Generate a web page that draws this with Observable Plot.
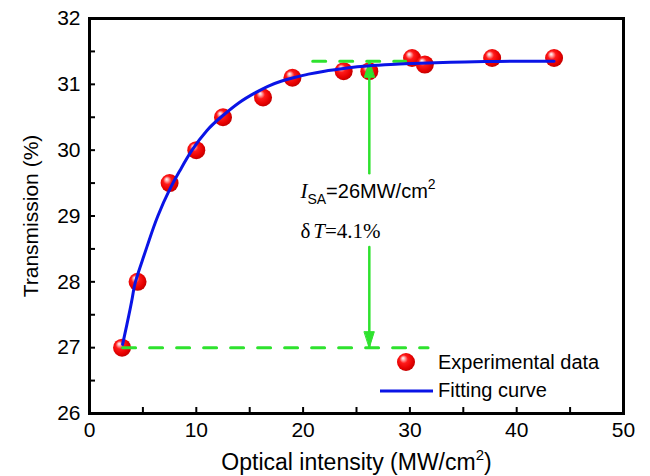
<!DOCTYPE html>
<html><head><meta charset="utf-8">
<script src="https://cdn.jsdelivr.net/npm/d3@7"></script>
<script src="https://cdn.jsdelivr.net/npm/@observablehq/plot@0.6"></script>
<style>html,body{margin:0;padding:0;background:#fff} svg{display:block}</style>
</head><body><div id="chart"></div>
<script>
const expX = [3.05, 4.5, 7.5, 10.0, 12.5, 16.25, 19.0, 23.8, 26.2, 30.2, 31.4, 37.7, 43.5];
const expY = [27.0, 28.0, 29.5, 30.0, 30.5, 30.8, 31.1, 31.2, 31.2, 31.4, 31.3, 31.4, 31.4];
// Fitting curve
const fitX = [3.1, 3.5, 4.0, 4.3, 5.0, 5.6, 6.4, 7.5, 8.5, 9.6, 11, 12.3, 14, 15.5, 16.7, 18, 19.1, 20.5, 22, 23.8, 25.4, 27, 29, 31, 33.8, 37, 40, 43.5];
const fitY = [27.05, 27.35, 27.75, 28.0, 28.35, 28.64, 29.0, 29.4, 29.7, 30.0, 30.3, 30.5, 30.72, 30.87, 30.97, 31.05, 31.1, 31.155, 31.2, 31.24, 31.27, 31.29, 31.31, 31.32, 31.335, 31.345, 31.35, 31.35];
// Axis ticks
const xTicks = [0, 10, 20, 30, 40, 50];
const yTicks = [26, 27, 28, 29, 30, 31, 32];
const xMinorTicks = [5, 10, 15, 20, 25, 30, 35, 40, 45];
const yMinorTicks = [26.5, 27, 27.5, 28, 28.5, 29, 29.5, 30, 30.5, 31, 31.5];
// Annotation geometry (data units)
const levelLow = 27.0, levelHigh = 31.35;
const lowDashX = [3.1, 31.7];
const highDashX = [20.9, 29.6];
const arrowX = 26.2;
const arrowGap = [29.65, 28.53];
const annoX = 19.75;
const annoY = [29.27, 28.67];
const annoText = ["ISA=26MW/cm2", "δT=4.1%"];
const legendLabels = ["Experimental data", "Fitting curve"];

const W = 650, H = 476, mL = 89, mR = 27, mT = 18, mB = 63;
const green = "#2ee22e", blue = "#0a14e6";
const sans = "'Liberation Sans', Arial, sans-serif";
const serif = "'Liberation Serif', 'Times New Roman', serif";

const exp = expX.map((x, i) => ({x, y: expY[i]}));
const fit = fitX.map((x, i) => ({x, y: fitY[i]}));
const lowDash = lowDashX.map(x => ({x, y: levelLow}));
const highDash = highDashX.map(x => ({x, y: levelHigh}));
const vTop = [{x: arrowX, y: levelHigh}, {x: arrowX, y: arrowGap[0]}];
const vBot = [{x: arrowX, y: arrowGap[1]}, {x: arrowX, y: levelLow}];
const heads = [{x: arrowX, y: levelHigh, r: 0}, {x: arrowX, y: levelLow, r: 180}];
const headShape = {draw(ctx, l, r) { ctx.moveTo(0, -l); ctx.lineTo(-r, 0); ctx.lineTo(r, 0); ctx.closePath(); }};
const annos = annoText.map((t, i) => ({t, x: annoX, y: annoY[i]}));

const innerH = H - mT - mB, innerW = W - mL - mR;

const chart = Plot.plot({
  width: W, height: H,
  marginLeft: mL, marginRight: mR, marginTop: mT, marginBottom: mB,
  x: {domain: [0, 50]},
  y: {domain: [26, 32]},
  style: {fontFamily: sans, fontSize: "20px", background: "#fff", color: "#000", overflow: "visible"},
  marks: [
    Plot.dot(exp, {x: "x", y: "y", r: 9, fill: "url(#ball)", stroke: "none"}),
    Plot.line(lowDash, {x: "x", y: "y", stroke: green, strokeWidth: 3, strokeDasharray: "13,14"}),
    Plot.line(highDash, {x: "x", y: "y", stroke: green, strokeWidth: 3, strokeDasharray: "13,14"}),
    Plot.line(vTop, {x: "x", y: "y", stroke: green, strokeWidth: 2.5}),
    Plot.line(vBot, {x: "x", y: "y", stroke: green, strokeWidth: 2.5}),
    Plot.vector(heads, {x: "x", y: "y", rotate: "r", length: 16, r: 5, anchor: "end", shape: headShape, fill: green, stroke: green, strokeWidth: 1}),
    Plot.line(fit, {x: "x", y: "y", stroke: blue, strokeWidth: 3, curve: "natural"}),
    Plot.text(annos, {x: "x", y: "y", text: "t", textAnchor: "start", lineAnchor: "bottom", fontSize: 20}),
    Plot.tickX(xMinorTicks, {x: d => d, insetTop: innerH - 6, stroke: "#000", strokeWidth: 2}),
    Plot.tickY(yMinorTicks, {y: d => d, insetRight: innerW - 6, stroke: "#000", strokeWidth: 2}),
    Plot.frame({stroke: "#000", strokeWidth: 3}),
    Plot.axisX(xTicks, {tickSize: 0, tickPadding: 9, label: null, fontSize: 21, tickFormat: d => String(d)}),
    Plot.axisY(yTicks, {tickSize: 0, tickPadding: 9, label: null, fontSize: 21, tickFormat: d => String(d)}),
    Plot.text(["Transmission (%)"], {frameAnchor: "left", rotate: -90, dx: -58, textAnchor: "middle", lineAnchor: "middle", fontSize: 21}),
    Plot.text(["Optical intensity (MW/cm2)"], {frameAnchor: "bottom", dy: 49, textAnchor: "middle", lineAnchor: "middle", fontSize: 23})
  ]
});

const svg = d3.select(chart);
const defs = svg.insert("defs", ":first-child");
const g = defs.append("radialGradient").attr("id", "ball")
  .attr("cx", "45%").attr("cy", "45%").attr("r", "60%").attr("fx", "33%").attr("fy", "28%");
[["0%", "#ffffff"], ["14%", "#ffb4b4"], ["38%", "#ff1a1a"], ["75%", "#e60000"], ["100%", "#b80000"]]
  .forEach(([o, c]) => g.append("stop").attr("offset", o).attr("stop-color", c));

svg.selectAll("text").filter(function() { return this.textContent === annoText[0]; }).each(function() {
  const t = d3.select(this); t.text(null);
  t.append("tspan").attr("font-family", serif).attr("font-style", "italic").attr("font-size", 21).text("I");
  t.append("tspan").attr("font-size", 14).attr("dy", 6).text("SA");
  t.append("tspan").attr("dy", -6).text("=26MW/cm");
  t.append("tspan").attr("font-size", 14).attr("dy", -9).text("2");
});
svg.selectAll("text").filter(function() { return this.textContent === annoText[1]; }).each(function() {
  const t = d3.select(this); t.text(null);
  t.attr("font-family", serif).attr("font-size", 21);
  t.append("tspan").text("δ");
  t.append("tspan").attr("dx", 3).attr("font-style", "italic").text("T");
  t.append("tspan").text("=4.1%");
});
svg.selectAll("text").filter(function() { return this.textContent === "Optical intensity (MW/cm2)"; }).each(function() {
  const t = d3.select(this); t.text(null);
  t.append("tspan").text("Optical intensity (MW/cm");
  t.append("tspan").attr("font-size", 15).attr("dy", -10).text("2");
  t.append("tspan").attr("dy", 10).text(")");
});

// legend
const lg = svg.append("g").attr("font-family", sans).attr("font-size", 20).attr("fill", "#000").attr("text-anchor", "start");
const lx = W - mR, ly = H - mB;
lg.append("circle").attr("cx", lx - 217).attr("cy", ly - 51).attr("r", 9).attr("fill", "url(#ball)");
lg.append("text").attr("x", lx - 185).attr("y", ly - 44).text(legendLabels[0]);
lg.append("line").attr("x1", lx - 243).attr("x2", lx - 190).attr("y1", ly - 22).attr("y2", ly - 22)
  .attr("stroke", blue).attr("stroke-width", 3);
lg.append("text").attr("x", lx - 185).attr("y", ly - 16).text(legendLabels[1]);

document.getElementById("chart").append(chart);
</script>
</body></html>
